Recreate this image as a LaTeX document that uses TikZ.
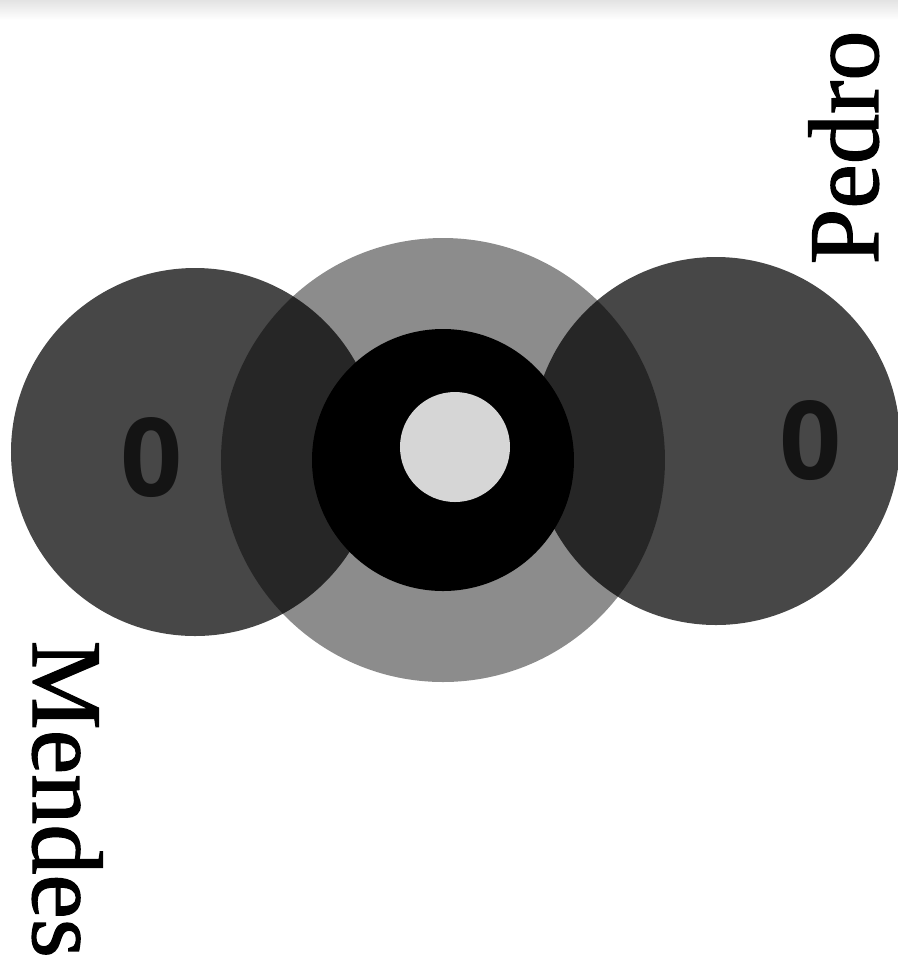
\documentclass[tikz,border=0pt]{standalone}
\usepackage{fontspec}
\setmainfont{Liberation Serif}
\newfontfamily\namefont{Liberation Serif}[FakeBold=1.2]
\newfontfamily\digitfont{Open Sans}
\begin{document}
\begin{tikzpicture}
[player/.style={circle,fill=black,fill opacity=0.72,inner sep=0,minimum size=3.68cm},
score/.style={font=\digitfont\bfseries\fontsize{31}{31}\selectfont,text=black!92,inner sep=0},
player name/.style={font=\namefont\fontsize{28.5}{30}\selectfont,inner sep=0,anchor=base west}]
\useasboundingbox (0,0) rectangle (8.98,-9.63);
\shade[top color=black!11,bottom color=white] (0,0) rectangle (8.98,-0.2);

\node[circle,fill=black!45,inner sep=0,minimum size=4.44cm] (ring) at (4.43,-4.60) {};
\node[circle,fill=black,inner sep=0,minimum size=2.62cm] (bull) at (4.43,-4.60) {};
\node[circle,fill=black!16,inner sep=0,minimum size=1.10cm] (eye) at (4.55,-4.47) {};

\node[player] (left) at (1.95,-4.52) {};
\node[player] (right) at (7.16,-4.41) {};

\node[score] (lscore) at (1.52,-4.58) {0};
\node[score] (rscore) at (8.11,-4.41) {0};

\node[player name, rotate=90] (pedro) at (8.78,-2.65) {Pedro};
\node[player name, rotate=-90] (mendes) at (0.33,-6.40) {Mendes};
\end{tikzpicture}
\end{document}
